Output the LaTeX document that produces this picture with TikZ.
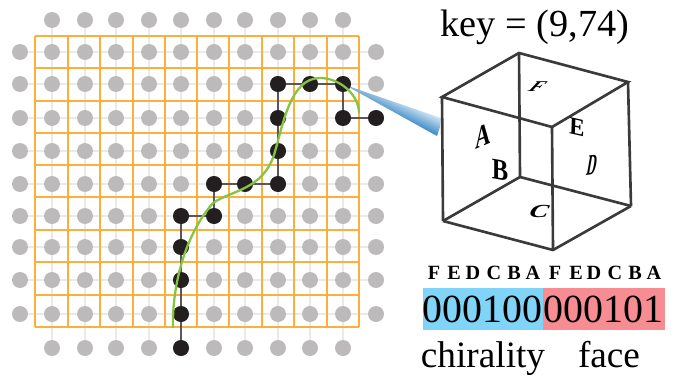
\documentclass[tikz,border=0pt]{standalone}
\usepackage{fontspec}
\setmainfont{Liberation Serif}
\definecolor{dotgray}{HTML}{BCBABB}
\definecolor{dotblack}{HTML}{231F20}
\definecolor{latgray}{HTML}{EAEAEA}
\definecolor{gridorange}{HTML}{FDAE3C}
\definecolor{curvegreen}{HTML}{86C440}
\definecolor{cubegray}{HTML}{3A3A3A}
\definecolor{chiblue}{HTML}{7FD4F8}
\definecolor{facered}{HTML}{F78C93}
\definecolor{wedgeblue}{HTML}{1C78BE}
\pgfdeclareverticalshading{wedgeshade}{100bp}{color(0bp)=(wedgeblue); color(44bp)=(wedgeblue); color(64bp)=(white); color(100bp)=(white)}
\tikzset{
    graydot/.style={circle, fill=dotgray, inner sep=0pt, minimum size=0.32cm},
    blackdot/.style={circle, fill=dotblack, inner sep=0pt, minimum size=0.32cm},
    cubeedge/.style={cubegray, line width=1.5pt},
    bitbox/.style={inner sep=0pt, font=\fontsize{22.7}{24}\selectfont},
    bigtext/.style={inner sep=0pt, font=\fontsize{21.8}{24}\selectfont},
    smalltext/.style={inner sep=0pt, font=\fontsize{21.2}{24}\selectfont},
    headbit/.style={inner sep=0pt, font=\bfseries\fontsize{11.5}{12}\selectfont},
    facebit/.style={inner sep=0pt, font=\bfseries\fontsize{10}{10}\selectfont},
}
\begin{document}
\begin{tikzpicture}[x=0.02cm, y=-0.02cm]
    \useasboundingbox (0,0) rectangle (678,375);
    % lattice points
    \foreach \x [count=\i] in {20,52,85,116,149,181,214,245,278,310,343,376}
        \foreach \y [count=\j] in {20,52,84,118,151,184,216,247,280,314,348}
            \coordinate (p\i-\j) at (\x,\y);
    \foreach \j in {2,...,10} \draw[latgray, line width=1.2pt] (p1-\j) -- (p12-\j);
    \foreach \i in {2,...,11} \draw[latgray, line width=1.2pt] (p\i-1) -- (p\i-11);
    % orange cells
    \foreach \x in {35,68,100,133,165,197,229,262,294,327,359}
        \draw[gridorange, line width=1.4pt] (\x,36) -- (\x,327);
    \foreach \y in {36,68,101,133,165,197,230,262,295,327}
        \draw[gridorange, line width=1.4pt] (35,\y) -- (359,\y);
    % gray dots
    \foreach \i in {1,...,12}
        \foreach \j in {2,...,10}
            \node[graydot] (g\i-\j) at (p\i-\j) {};
    \foreach \i in {2,...,11} {
        \node[graydot] (g\i-1) at (p\i-1) {};
        \node[graydot] (g\i-11) at (p\i-11) {};
    }
    % wedge
    \shade[shading=wedgeshade, shading angle=-25]
        (345,85) -- (441,118) -- (440,127) -- (437,136) -- cycle;
    % chain
    \foreach \i/\j [count=\k] in {6/11,6/10,6/9,6/8,6/7,7/7,7/6,8/6,9/6,9/5,9/4,9/3,10/3,11/3,11/4,12/4}
        \node[blackdot] (b\k) at (p\i-\j) {};
    \foreach \k [remember=\k as \prev (initially 1)] in {2,...,16}
        \draw[dotblack!75, line width=1.2pt] (b\prev) -- (b\k);
    % curve
    \draw[curvegreen, line width=1.3pt] (173,328) .. controls (172,285) and (185,235) .. (213,203)
        .. controls (232,190) and (262,190) .. (274,155)
        .. controls (283,125) and (290,78) .. (320,78)
        .. controls (340,78) and (359,95) .. (359,113);
    % cube
    \coordinate (lt) at (442,97);
    \coordinate (ft) at (552,127);
    \coordinate (rt) at (628,82);
    \coordinate (bt) at (519,53);
    \coordinate (lb) at (443,221);
    \coordinate (fb) at (553,250);
    \coordinate (rb) at (631,206);
    \coordinate (bb) at (520,177);
    \draw[cubeedge] (bt) -- (bb) (bb) -- (lb) (bb) -- (rb);
    \draw[cubeedge] (lt) -- (ft) -- (rt) -- (bt) -- cycle;
    \draw[cubeedge] (lb) -- (fb) -- (rb);
    \draw[cubeedge] (lt) -- (lb) (ft) -- (fb) (rt) -- (rb);
    \node[facebit, cm={1.2,0.5,0,1.8,(0,0)}] (fa) at (483,136) {A};
    \node[facebit, cm={1.4,-0.25,0,1.7,(0,0)}] (fbb) at (500,170) {B};
    \node[facebit, cm={1.6,0,0.5,1.05,(0,0)}] (fc) at (540,211) {C};
    \node[facebit, cm={0.75,0.1,0.3,1.7,(0,0)}] (fd) at (592,165) {D};
    \node[facebit, cm={1.3,-0.3,0.05,1.4,(0,0)}] (fe) at (577,127) {E};
    \node[facebit, cm={1.2,0,0.8,0.85,(0,0)}] (ff) at (538,87) {F};
    % labels
    \node[bigtext] (keylab) at (535,27) {key = (9,74)};
    \foreach \x/\s in {434/F,454/E,473/D,494/C,514/B,533/A,555/F,576/E,594/D,615/C,635/B,654/A}
        \node[headbit] (h\x) at (\x,273) {\s};
    \node[fill=chiblue, minimum width=2.39cm, minimum height=0.84cm, inner sep=0pt] (chibox) at (482.75,309) {};
    \node[fill=facered, minimum width=2.45cm, minimum height=0.84cm, inner sep=0pt] (facebox) at (603.75,309) {};
    \node[bitbox] (chibits) at (chibox) {000100};
    \node[bitbox] (facebits) at (facebox) {000101};
    \node[smalltext, anchor=base] (chilab) at (483,367) {chirality};
    \node[smalltext, anchor=base] (facelab) at (609,367) {face};
\end{tikzpicture}
\end{document}
